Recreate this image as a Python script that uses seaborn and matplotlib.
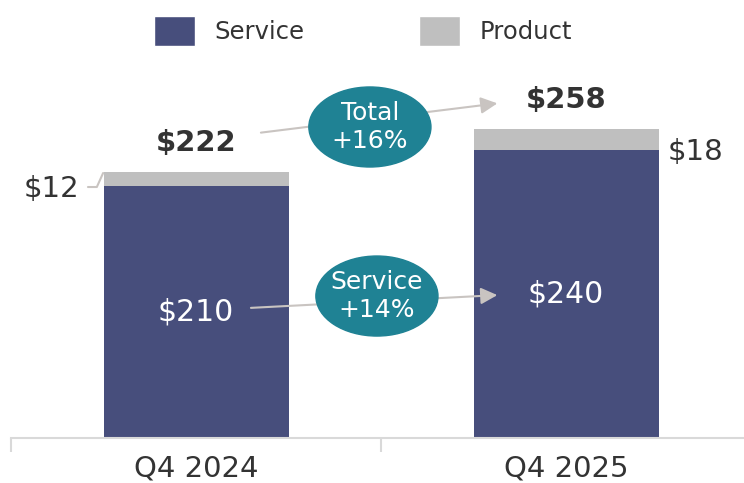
import matplotlib
matplotlib.use("Agg")
import matplotlib.pyplot as plt
import seaborn as sns
import pandas as pd
from matplotlib.patches import Ellipse, Patch

# data
quarters = ["Q4 2024", "Q4 2025"]
service = [210, 240]
product = [12, 18]
totals = [s + p for s, p in zip(service, product)]
growth_labels = ["Total\n+16%", "Service\n+14%"]

navy = "#474E7C"
grey = "#BFBFBF"
teal = "#1F8294"
dark = "#333333"
arrow_c = "#C9C4C1"

sns.set_theme(style="white")
plt.rcParams["font.family"] = ["DejaVu Sans"]

df = pd.DataFrame({"quarter": quarters, "service": service,
                   "product": product, "total": totals})

fig = plt.figure(figsize=(7.44, 4.83), dpi=100)
ax = fig.add_axes([11 / 744, 45 / 483, 740 / 744, 438 / 483])

# stacked bars: total in grey, service on top of it
sns.barplot(data=df, x="quarter", y="total", color=grey, width=0.5,
            saturation=1, linewidth=0, ax=ax)
sns.barplot(data=df, x="quarter", y="service", color=navy, width=0.5,
            saturation=1, linewidth=0, ax=ax)

ax.set_xlim(-0.5, 1.5)
ax.set_ylim(0, 365.6)
ax.set_xlabel("")
ax.set_ylabel("")
ax.set_yticks([])
for s in ["top", "left", "right"]:
    ax.spines[s].set_visible(False)
ax.spines["bottom"].set_color("#D9D9D9")
ax.spines["bottom"].set_linewidth(1.5)
ax.set_xticks([0, 1])
ax.set_xticklabels(quarters, fontsize=21, color=dark)
ax.tick_params(axis="x", which="major", bottom=False, length=0, pad=12)
ax.set_xticks([-0.5, 0.5, 1.5], minor=True)
ax.tick_params(axis="x", which="minor", bottom=True, length=10, width=1.5,
               color="#D9D9D9")

# value labels
for i, (s, p, t) in enumerate(zip(service, product, totals)):
    ax.text(i, s / 2, f"${s}", ha="center", va="center", color="white", fontsize=21.5)
    ax.text(i, t + 24, f"${t}", ha="center", va="center", color=dark,
            fontsize=21, fontweight="bold")

ax.text(-0.316, 207.8, f"${product[0]}", ha="right", va="center", color=dark, fontsize=21)
ax.text(1.276, 238.7, f"${product[1]}", ha="left", va="center", color=dark, fontsize=21)
ax.plot([-0.292, -0.268, -0.251], [209.5, 209.5, 221.2], color=arrow_c, lw=1.5)

# growth arrows + ellipses
arrows = [((0.168, 254.6), (0.822, 279.6)), ((0.141, 108.5), (0.822, 119.4))]
centers = [(0.470, 259.6), (0.489, 118.5)]
for (start, end), (cx, cy), lab in zip(arrows, centers, growth_labels):
    ax.annotate("", xy=end, xytext=start,
                arrowprops=dict(arrowstyle="-|>", color=arrow_c, lw=1.5,
                                mutation_scale=25), zorder=3)
    ax.add_patch(Ellipse((cx, cy), 0.33, 66.8, color=teal, zorder=4))
    ax.text(cx, cy, lab, ha="center", va="center", color="white",
            fontsize=18, linespacing=1.2, zorder=5)

# legend
handles = [Patch(facecolor=navy, label="Service"), Patch(facecolor=grey, label="Product")]
fig.legend(handles=handles, loc="center", bbox_to_anchor=(0.488, 0.936), ncol=2,
           frameon=False, fontsize=17.5, handlelength=1.69, handleheight=1.56,
           handletextpad=0.82, columnspacing=4.7, labelcolor=dark)

fig.savefig("out.png", dpi=100)
